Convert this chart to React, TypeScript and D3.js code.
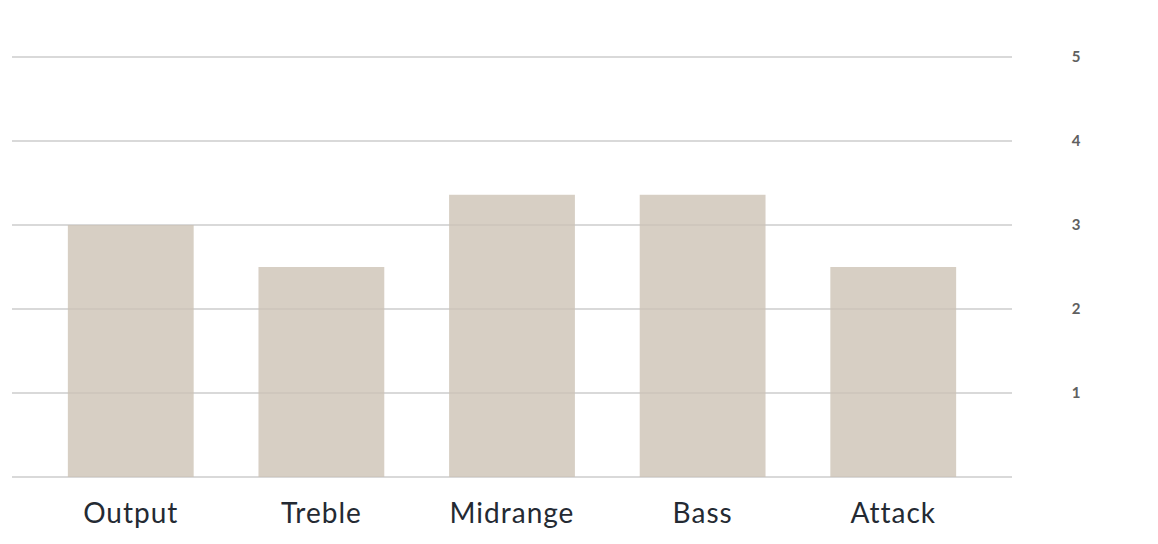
import React from "react";
import * as d3 from "d3";

const categories = ["Output", "Treble", "Midrange", "Bass", "Attack"];
const values = [3.0, 2.5, 3.36, 3.36, 2.5];
const yTicks = [1, 2, 3, 4, 5];

export default function App() {
  const W = 1158, H = 544;
  const x = d3.scaleBand<string>().domain(categories).range([12, 1012]).paddingInner(0.34).paddingOuter(0.293);
  const y = d3.scaleLinear().domain([0, 5]).range([477, 57]);
  const grid = [0, ...yTicks];
  return (
    <svg width={W} height={H} style={{ position: "absolute", left: 0, top: 0 }}>
      <rect width={W} height={H} fill="#fff" />
      {grid.map((t) => (
        <line key={"g" + t} x1={12} x2={1012} y1={y(t)} y2={y(t)} stroke="#e1e1e1" strokeWidth={2} />
      ))}
      {categories.map((c, i) => (
        <rect key={c} x={x(c)} y={y(values[i])} width={x.bandwidth()} height={y(0) - y(values[i])} fill="#d7cfc4" />
      ))}
      {grid.map((t) => (
        <line key={"o" + t} x1={12} x2={1012} y1={y(t)} y2={y(t)} stroke="rgba(0,0,0,0.035)" strokeWidth={2} />
      ))}
      {yTicks.map((t) => (
        <text key={t} x={1076} y={y(t)} dy="0.35em" textAnchor="middle" fontFamily="Lato, sans-serif" fontWeight="bold" fontSize={15} fill="#606060">{t}</text>
      ))}
      {categories.map((c) => (
        <text key={c} x={(x(c) as number) + x.bandwidth() / 2} y={522.5} textAnchor="middle" fontFamily="Lato, sans-serif" fontSize={28} letterSpacing={1} fill="#242a33">{c}</text>
      ))}
    </svg>
  );
}
